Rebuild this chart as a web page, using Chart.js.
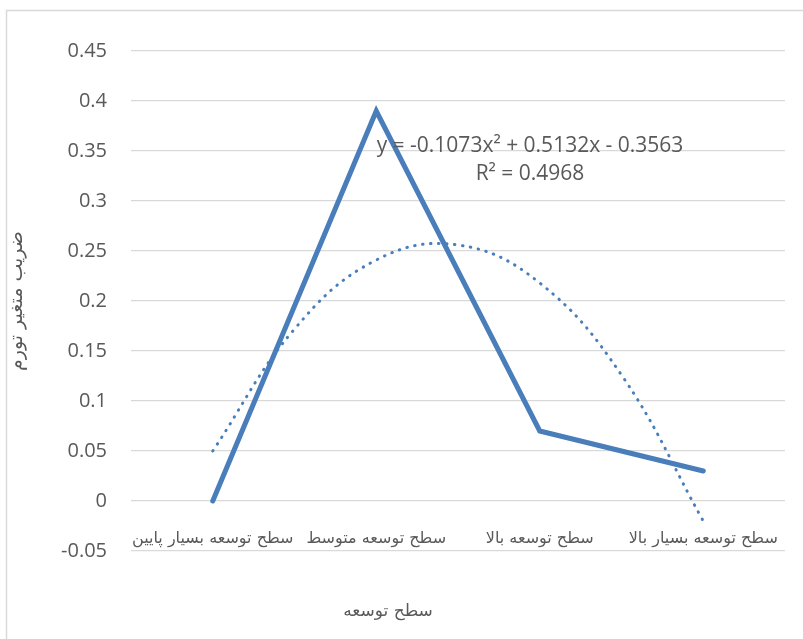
<!DOCTYPE html>
<html>
<head>
<meta charset="utf-8">
<script src="https://cdn.jsdelivr.net/npm/chart.js@4"></script>
<style>
    html, body { margin: 0; padding: 0; background: #ffffff; }
    #wrap { width: 803px; height: 639px; position: relative; }
</style>
</head>
<body>
<div id="wrap"><canvas id="trendChart"></canvas></div>
<script>
// categories (development level) and the series values
const categories = ["سطح توسعه بسیار پایین", "سطح توسعه متوسط", "سطح توسعه بالا", "سطح توسعه بسیار بالا"];
const coefValues = [0, 0.39, 0.07, 0.03];

// dotted polynomial trendline at category positions
const trendX = [1, 1.5, 2, 2.5, 3, 3.5, 4];
const trendY = [0.05, 0.172, 0.241, 0.256, 0.218, 0.126, -0.02];

const yTicks = [-0.05, 0, 0.05, 0.1, 0.15, 0.2, 0.25, 0.3, 0.35, 0.4, 0.45];

const xTitle = "سطح توسعه";
const yTitle = "ضریب متغیر تورم";
const equationText = "y = -0.1073x² + 0.5132x - 0.3563";
const r2Text = "R² = 0.4968";

const textColor = "#595959";
const gridColor = "#d9d9d9";
const lineBlue = "#4a7ebb";

const trendPoints = trendX.map(function (x, i) { return { x: x, y: trendY[i] }; });

// chart frame, x title and trendline label
const extrasPlugin = {
    id: "extras",
    beforeDraw: function (chart) {
        const ctx = chart.ctx;
        ctx.save();
        ctx.fillStyle = "#ffffff";
        ctx.fillRect(0, 0, chart.width, chart.height);
        ctx.strokeStyle = gridColor;
        ctx.lineWidth = 1.5;
        ctx.strokeRect(6.5, 10.5, chart.width, chart.height);
        ctx.restore();
    },
    afterDraw: function (chart) {
        const ctx = chart.ctx;
        ctx.save();
        ctx.fillStyle = textColor;
        ctx.textAlign = "center";
        ctx.textBaseline = "middle";
        ctx.font = "17px 'DejaVu Sans'";
        ctx.fillText(xTitle, 388, 612);
        ctx.font = "21px 'Open Sans'";
        ctx.fillText(equationText, 530, 146);
        ctx.fillText(r2Text, 530, 174);
        ctx.restore();
    }
};

new Chart(document.getElementById("trendChart"), {
    type: "line",
    data: {
        labels: categories,
        datasets: [
            {
                label: "trend",
                data: trendPoints,
                xAxisID: "xt",
                yAxisID: "y",
                borderColor: lineBlue,
                borderWidth: 3,
                borderDash: [0.5, 7.5],
                borderCapStyle: "round",
                pointRadius: 0,
                tension: 0.4,
                fill: false,
                order: 0
            },
            {
                label: "coef",
                data: coefValues,
                xAxisID: "x",
                yAxisID: "y",
                borderColor: lineBlue,
                borderWidth: 5,
                borderCapStyle: "round",
                pointRadius: 0,
                tension: 0,
                fill: false,
                order: 1
            }
        ]
    },
    options: {
        responsive: true,
        maintainAspectRatio: false,
        animation: false,
        layout: {
            padding: { left: 0, top: 51, right: 18, bottom: 88 }
        },
        plugins: {
            legend: { display: false },
            tooltip: { enabled: false }
        },
        scales: {
            x: {
                type: "category",
                offset: true,
                position: { y: 0 },
                grid: { display: false },
                border: { display: false },
                ticks: {
                    color: textColor,
                    autoSkip: false,
                    maxRotation: 0,
                    padding: 20,
                    font: { family: "'DejaVu Sans'", size: 16 }
                }
            },
            xt: {
                type: "linear",
                display: false,
                min: 0.5,
                max: 4.5
            },
            y: {
                min: -0.05,
                max: 0.45,
                afterFit: function (scale) { scale.width = 131; },
                afterBuildTicks: function (scale) {
                    scale.ticks = yTicks.map(function (v) { return { value: v }; });
                },
                grid: {
                    color: gridColor,
                    lineWidth: 1.3,
                    drawTicks: false
                },
                border: { display: false },
                ticks: {
                    color: textColor,
                    padding: 24,
                    font: { family: "'Open Sans'", size: 20 },
                    callback: function (value) { return String(Math.round(value * 100) / 100); }
                },
                title: {
                    display: true,
                    text: yTitle,
                    color: textColor,
                    padding: { top: 6, bottom: 0 },
                    font: { family: "'DejaVu Sans'", size: 19 }
                }
            }
        }
    },
    plugins: [extrasPlugin]
});
</script>
</body>
</html>
